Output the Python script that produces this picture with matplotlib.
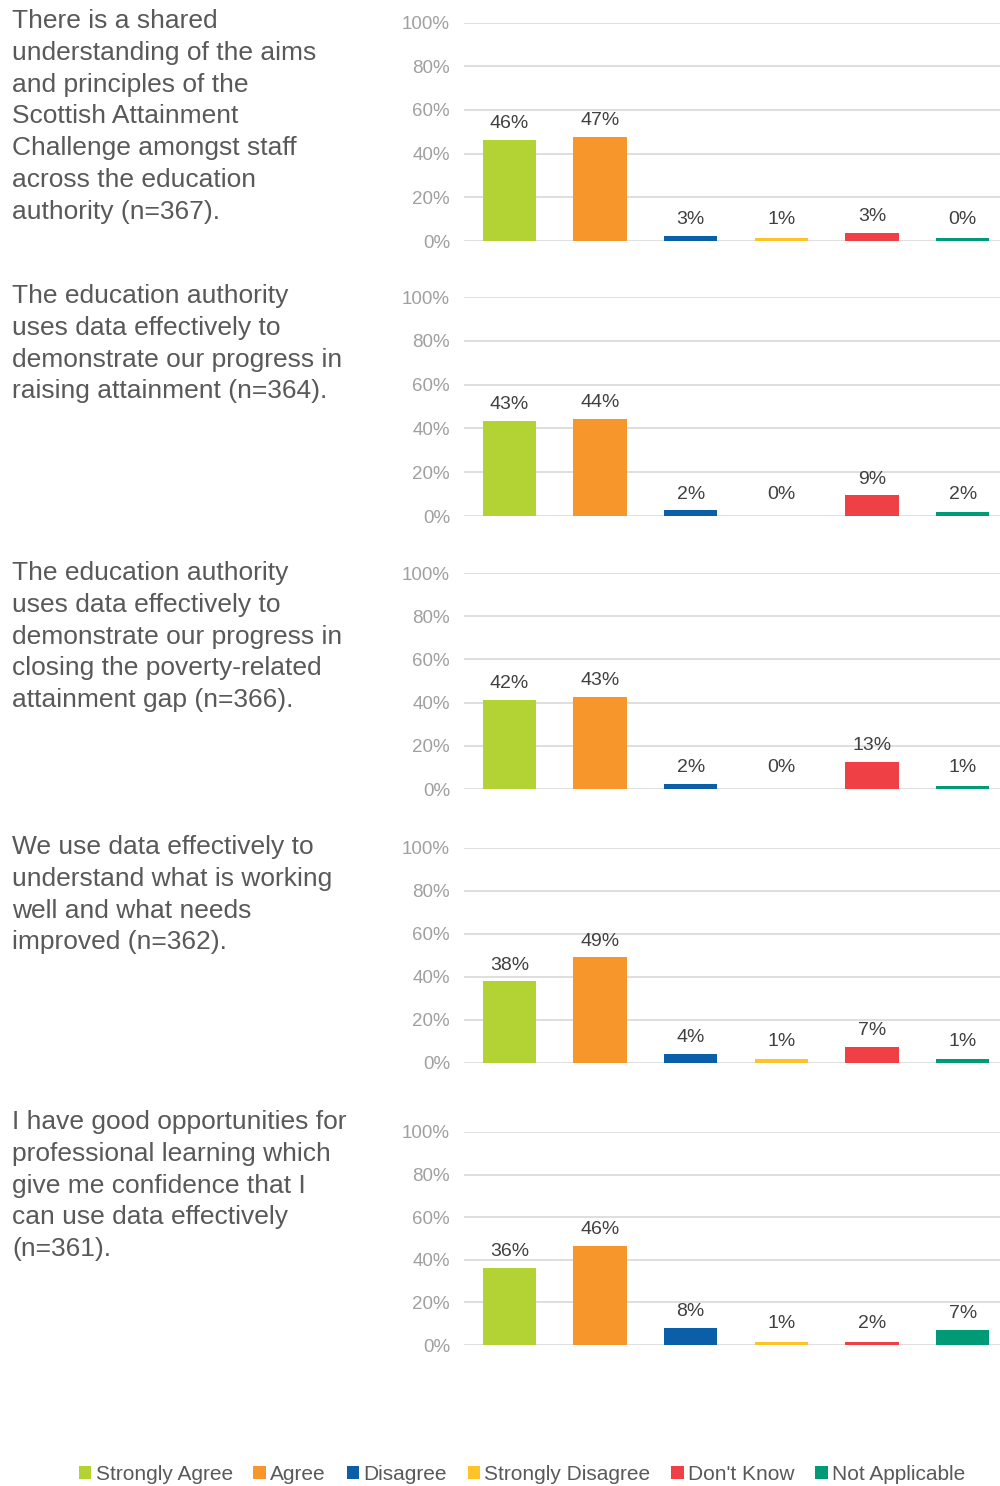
import matplotlib
matplotlib.use("Agg")
import matplotlib.pyplot as plt
from matplotlib.patches import Patch

plt.rcParams['font.family'] = ['Liberation Sans', 'DejaVu Sans']

categories = ["Strongly Agree", "Agree", "Disagree", "Strongly Disagree",
              "Don't Know", "Not Applicable"]
colors = ["#B3D334", "#F7972B", "#0B5EA8", "#FFC32A", "#EE4045", "#009A77"]

questions = [
    "There is a shared\nunderstanding of the aims\nand principles of the\n"
    "Scottish Attainment\nChallenge amongst staff\nacross the education\n"
    "authority (n=367).",
    "The education authority\nuses data effectively to\n"
    "demonstrate our progress in\nraising attainment (n=364).",
    "The education authority\nuses data effectively to\n"
    "demonstrate our progress in\nclosing the poverty-related\n"
    "attainment gap (n=366).",
    "We use data effectively to\nunderstand what is working\n"
    "well and what needs\nimproved (n=362).",
    "I have good opportunities for\nprofessional learning which\n"
    "give me confidence that I\ncan use data effectively\n(n=361).",
]

# bar heights as drawn
q1_heights = [46.4, 47.8, 2.4, 1.5, 3.8, 1.5]
q2_heights = [43.4, 44.5, 2.7, 0.0, 9.6, 1.8]
q3_heights = [41.3, 42.7, 2.5, 0.0, 12.7, 1.5]
q4_heights = [37.8, 49.1, 4.1, 1.7, 7.3, 1.7]
q5_heights = [36.2, 46.5, 8.1, 1.6, 1.6, 7.2]

# printed labels
q1_labels = [46, 47, 3, 1, 3, 0]
q2_labels = [43, 44, 2, 0, 9, 2]
q3_labels = [42, 43, 2, 0, 13, 1]
q4_labels = [38, 49, 4, 1, 7, 1]
q5_labels = [36, 46, 8, 1, 2, 7]

heights = [q1_heights, q2_heights, q3_heights, q4_heights, q5_heights]
labels = [q1_labels, q2_labels, q3_labels, q4_labels, q5_labels]

W, H = 1000, 1486
fig = plt.figure(figsize=(W / 100, H / 100), dpi=100)

# (top gridline px, bottom gridline px, question text top px)
panels = [(22.5, 241, 9), (297, 516, 284), (573, 789, 561),
          (848, 1062.5, 835), (1132, 1345, 1110)]

x = range(len(categories))
for (top, bot, ttop), hs, labs, q in zip(panels, heights, labels, questions):
    ax = fig.add_axes([0.464, 1 - bot / H, 0.544, (bot - top) / H])
    ax.bar(x, hs, width=0.59, color=colors, zorder=3)
    ax.set_xlim(-0.5, 5.5)
    ax.set_ylim(0, 100)
    ax.set_yticks(range(0, 101, 20))
    ax.set_yticklabels([f"{v}%" for v in range(0, 101, 20)])
    ax.tick_params(axis='y', length=0, pad=10, labelsize=13.5,
                   labelcolor="#A0A0A0")
    ax.set_xticks([])
    ax.grid(axis='y', color="#D9D9D9", linewidth=1.2, zorder=0)
    for sp in ax.spines.values():
        sp.set_visible(False)
    for xi, h, lab in zip(x, hs, labs):
        ax.annotate(f"{lab}%", (xi, max(h, 2.5)), xytext=(0, 11.5),
                    textcoords='offset points', ha='center', va='center',
                    fontsize=14, color="#404040")
    fig.text(0.012, 1 - ttop / H, q, ha='left', va='top', fontsize=19,
             color="#595959", linespacing=1.41)

handles = [Patch(facecolor=c, edgecolor='none') for c in colors]
fig.legend(handles, categories, loc='center', bbox_to_anchor=(0.522, 1 - 1474 / H),
           ncol=6, frameon=False, fontsize=15, handlelength=0.6,
           handleheight=0.6, handletextpad=0.2, columnspacing=1.0,
           labelcolor="#595959")

fig.savefig("out.png", dpi=100, facecolor='white')
